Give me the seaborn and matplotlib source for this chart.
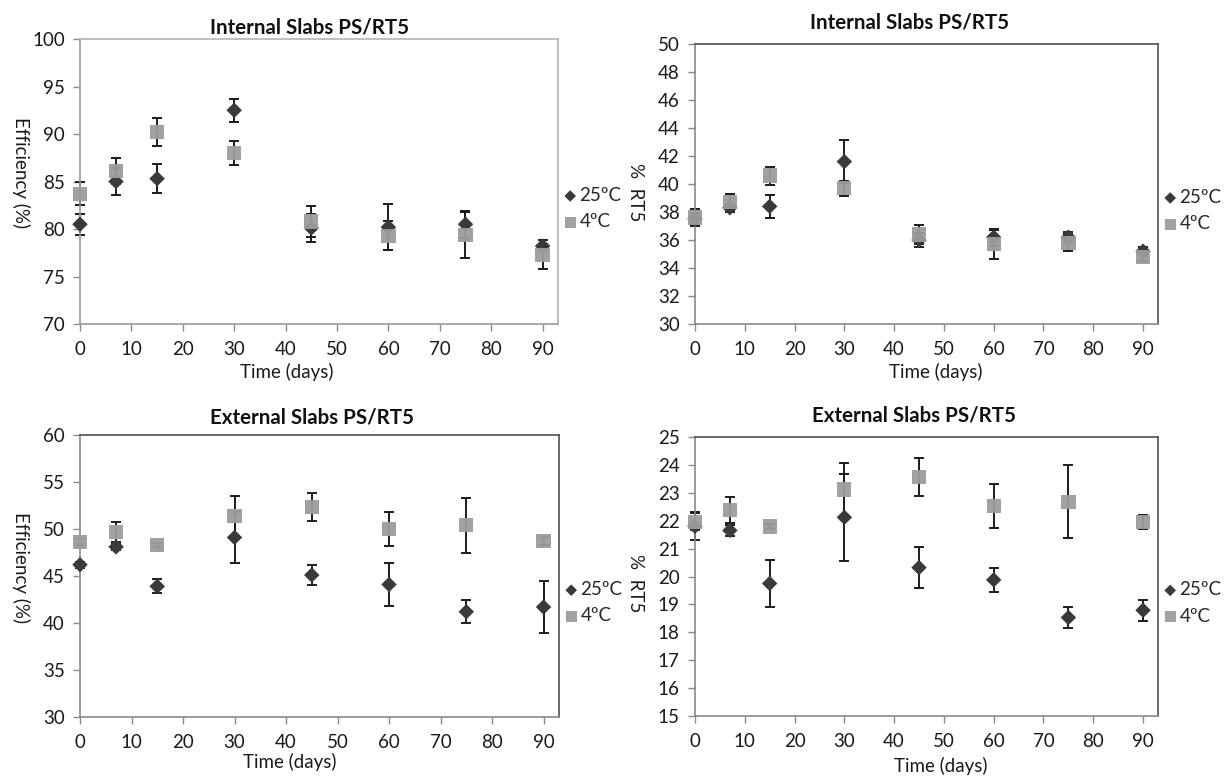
import matplotlib
matplotlib.use("Agg")
import matplotlib.pyplot as plt
import seaborn as sns
import pandas as pd

# ---------------- data ----------------
days = [0, 7, 15, 30, 45, 60, 75, 90]
series_labels = ["25ºC", "4ºC"]

int_eff_25 = [80.5, 85.0, 85.3, 92.5, 80.1, 80.2, 80.5, 78.2]
int_eff_25_err = [1.1, 1.4, 1.5, 1.2, 1.5, 2.4, 1.4, 0.2]
int_eff_4 = [83.7, 86.1, 90.2, 88.0, 80.8, 79.3, 79.4, 77.3]
int_eff_4_err = [1.2, 1.4, 1.45, 1.3, 1.65, 1.5, 2.4, 1.5]

int_rt5_25 = [37.5, 38.3, 38.4, 41.6, 36.0, 36.2, 36.2, 35.2]
int_rt5_25_err = [0.4, 0.3, 0.85, 1.55, 0.5, 0.6, 0.4, 0.3]
int_rt5_4 = [37.6, 38.7, 40.6, 39.7, 36.4, 35.7, 35.8, 34.8]
int_rt5_4_err = [0.6, 0.6, 0.65, 0.55, 0.7, 1.05, 0.6, 0.3]

ext_eff_25 = [46.2, 48.1, 43.9, 49.1, 45.1, 44.1, 41.2, 41.7]
ext_eff_25_err = [0.3, 0.3, 0.75, 2.75, 1.1, 2.25, 1.25, 2.75]
ext_eff_4 = [48.6, 49.7, 48.3, 51.4, 52.3, 50.0, 50.4, 48.7]
ext_eff_4_err = [0.3, 1.05, 0.2, 2.1, 1.5, 1.8, 2.9, 0.4]

ext_rt5_25 = [21.8, 21.65, 19.75, 22.12, 20.32, 19.88, 18.53, 18.79]
ext_rt5_25_err = [0.5, 0.2, 0.85, 1.57, 0.72, 0.43, 0.37, 0.38]
ext_rt5_4 = [21.96, 22.38, 21.79, 23.12, 23.56, 22.53, 22.68, 21.95]
ext_rt5_4_err = [0.3, 0.48, 0.1, 0.95, 0.69, 0.79, 1.31, 0.25]

titles = ["Internal Slabs PS/RT5", "Internal Slabs PS/RT5",
          "External Slabs PS/RT5", "External Slabs PS/RT5"]
ylabels = ["Efficiency (%)", "%  RT5", "Efficiency (%)", "%  RT5"]
xlabel = "Time (days)"
x_ticks = [0, 10, 20, 30, 40, 50, 60, 70, 80, 90]
y_ticks = [
    [70, 75, 80, 85, 90, 95, 100],
    list(range(30, 51, 2)),
    [30, 35, 40, 45, 50, 55, 60],
    list(range(15, 26, 1)),
]

panels = [
    (int_eff_25, int_eff_25_err, int_eff_4, int_eff_4_err),
    (int_rt5_25, int_rt5_25_err, int_rt5_4, int_rt5_4_err),
    (ext_eff_25, ext_eff_25_err, ext_eff_4, ext_eff_4_err),
    (ext_rt5_25, ext_rt5_25_err, ext_rt5_4, ext_rt5_4_err),
]

# ---------------- style ----------------
sns.set_theme(style="white")
plt.rcParams["font.family"] = ["Lato", "DejaVu Sans"]

W, H = 1226, 776
fig = plt.figure(figsize=(W / 100, H / 100), dpi=100)

# axes rectangles in pixels: left, top, right, bottom
rects_px = [
    (80, 39, 558, 324),
    (695, 44, 1158, 324),
    (80, 435, 559, 717),
    (695, 437, 1158, 716),
]
title_x = [0.481, 0.464, 0.485, 0.473]
title_pad = [4.0, 11.0, 8.0, 11.0]
xlab_x = [0.433, 0.52, 0.437, 0.53]
xlab_dy = [48, 48, 45, 50]
ylab_y = [0.53, 0.47, 0.53, 0.477]

dark = "#3a3a3a"
light = "#9c9c9c"
err_c = "#1c1c1c"
fs = 13.5

for i, (v25, e25, v4, e4) in enumerate(panels):
    l, t, r, b = rects_px[i]
    ax = fig.add_axes([l / W, 1 - b / H, (r - l) / W, (b - t) / H])
    wpx, hpx = r - l, b - t

    df = pd.DataFrame({
        "day": days * 2,
        "value": v25 + v4,
        "err": e25 + e4,
        "temp": [series_labels[0]] * len(days) + [series_labels[1]] * len(days),
    })
    d25 = df[df["temp"] == series_labels[0]]
    d4 = df[df["temp"] == series_labels[1]]

    ax.errorbar(d25["day"], d25["value"], yerr=d25["err"], fmt="none",
                ecolor=err_c, elinewidth=1.4, capsize=3.3, capthick=1.4,
                zorder=2, clip_on=False)
    ax.errorbar(d4["day"], d4["value"], yerr=d4["err"], fmt="none",
                ecolor=err_c, elinewidth=1.4, capsize=3.3, capthick=1.4,
                zorder=2, clip_on=False)
    sns.scatterplot(data=d25, x="day", y="value", marker="D", s=62,
                    color=dark, edgecolor="none", ax=ax, zorder=3,
                    clip_on=False, label=series_labels[0])
    sns.scatterplot(data=d4, x="day", y="value", marker="s", s=105,
                    color=light, edgecolor="none", ax=ax, zorder=4,
                    clip_on=False, label=series_labels[1], alpha=0.95)

    ax.set_xlim(0, 93)
    yt = y_ticks[i]
    ax.set_ylim(yt[0], yt[-1])
    ax.set_xticks(x_ticks)
    ax.set_yticks(yt)
    ax.tick_params(axis="both", direction="out", length=5, width=1,
                   color="#8a8a8a", labelsize=fs, labelcolor="#1a1a1a",
                   bottom=True, left=True)
    ax.tick_params(axis="x", pad=7)
    ax.tick_params(axis="y", pad=6)

    if i == 0:
        spine_cols = {"left": "#9a9a9a", "bottom": "#9a9a9a",
                      "top": "#b4b4b4", "right": "#b4b4b4"}
    else:
        spine_cols = {"left": "#8a8a8a", "bottom": "#8a8a8a",
                      "top": "#505050", "right": "#505050"}
    for k, sp in ax.spines.items():
        sp.set_visible(True)
        sp.set_color(spine_cols[k])
        sp.set_linewidth(1.2)

    ax.set_title(titles[i], fontsize=14.8, fontweight="bold", pad=title_pad[i],
                 x=title_x[i], color="#111111")
    ax.set_xlabel(xlabel, fontsize=fs, va="center", color="#1a1a1a")
    ax.xaxis.set_label_coords(xlab_x[i], -xlab_dy[i] / hpx)
    ax.set_ylabel(ylabels[i], fontsize=fs, rotation=-90, va="center",
                  ha="center", rotation_mode="anchor", color="#1a1a1a")
    ax.yaxis.set_label_coords(-59 / wpx, ylab_y[i])

    leg = ax.legend(loc="center left", bbox_to_anchor=(1.0, 0.405),
                    frameon=False, handletextpad=0.0, borderaxespad=0.15,
                    handlelength=1.0, labelspacing=0.5, fontsize=fs,
                    markerscale=0.75, borderpad=0)

fig.savefig("out.png", dpi=100)
